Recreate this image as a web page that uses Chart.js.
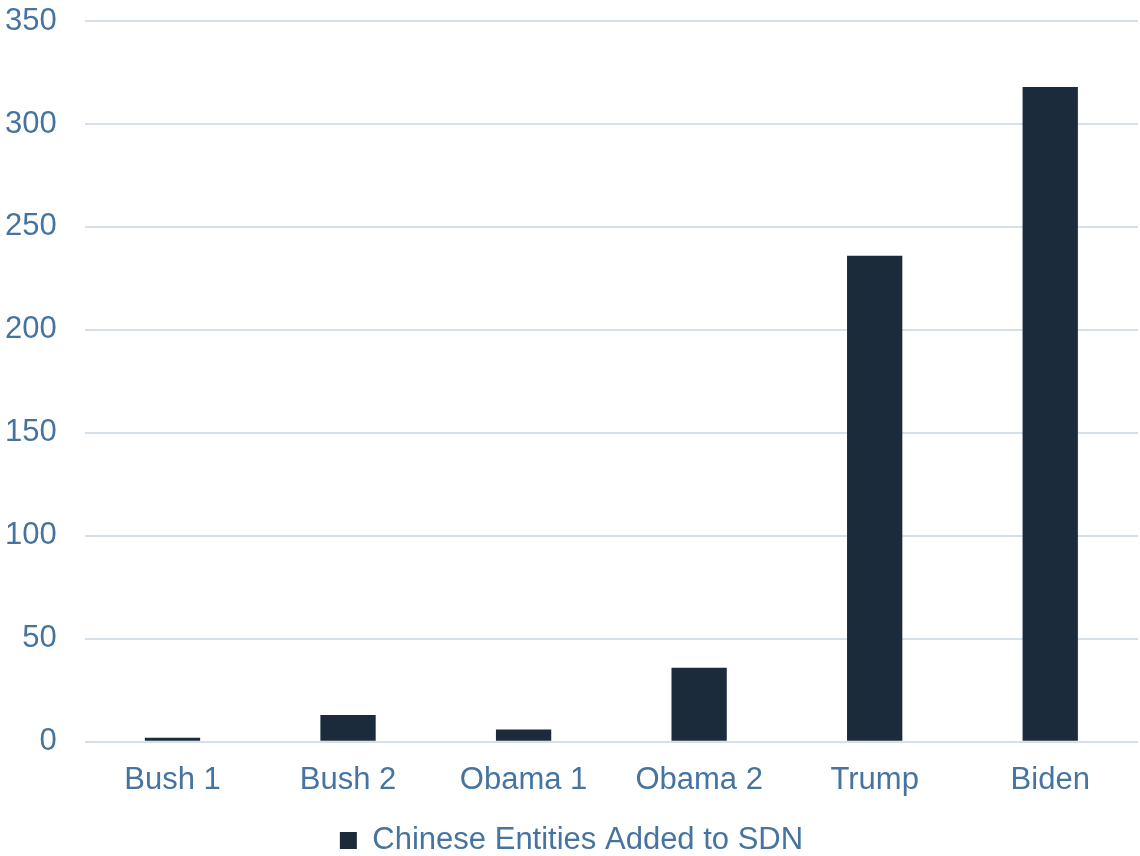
<!DOCTYPE html>
<html>
<head>
<meta charset="utf-8">
<script src="https://cdn.jsdelivr.net/npm/chart.js@4/dist/chart.umd.min.js"></script>
<style>
  html, body { margin: 0; padding: 0; background: #fff; }
  #wrap { width: 1140px; height: 856px; }
</style>
</head>
<body>
<div id="wrap"><canvas id="sdnChart" width="1140" height="856"></canvas></div>
<script>
const terms = ['Bush 1', 'Bush 2', 'Obama 1', 'Obama 2', 'Trump', 'Biden'];
const entitiesAdded = [2, 13, 6, 36, 236, 318];
const seriesLabel = 'Chinese Entities Added to SDN';

const textColor = '#4574a0';
const barColor = '#1b2b3b';
const gridColor = '#d5e0ea';
const fontFamily = 'Liberation Sans, Arial, sans-serif';

const ctx = document.getElementById('sdnChart').getContext('2d');
new Chart(ctx, {
  type: 'bar',
  data: {
    labels: terms,
    datasets: [{
      label: seriesLabel,
      data: entitiesAdded,
      backgroundColor: barColor,
      barPercentage: 0.315,
      categoryPercentage: 1.0
    }]
  },
  options: {
    responsive: false,
    animation: false,
    layout: { padding: { left: 5, right: 2, top: 21, bottom: -10 } },
    plugins: {
      tooltip: { enabled: false },
      legend: {
        position: 'bottom',
        labels: {
          color: textColor,
          font: { family: fontFamily, size: 31 },
          boxWidth: 17,
          boxHeight: 17,
          padding: 14
        }
      }
    },
    scales: {
      x: {
        grid: { display: false },
        border: { display: false },
        ticks: {
          color: textColor,
          font: { family: fontFamily, size: 31 },
          padding: 12
        }
      },
      y: {
        min: 0,
        max: 350,
        ticks: {
          stepSize: 50,
          color: textColor,
          font: { family: fontFamily, size: 31 },
          padding: 0
        },
        // transparent tick marks keep the gap between labels and grid
        grid: { color: gridColor, lineWidth: 2, drawTicks: true, tickLength: 28, tickColor: 'rgba(0,0,0,0)' },
        border: { display: false }
      }
    }
  }
});
</script>
</body>
</html>
